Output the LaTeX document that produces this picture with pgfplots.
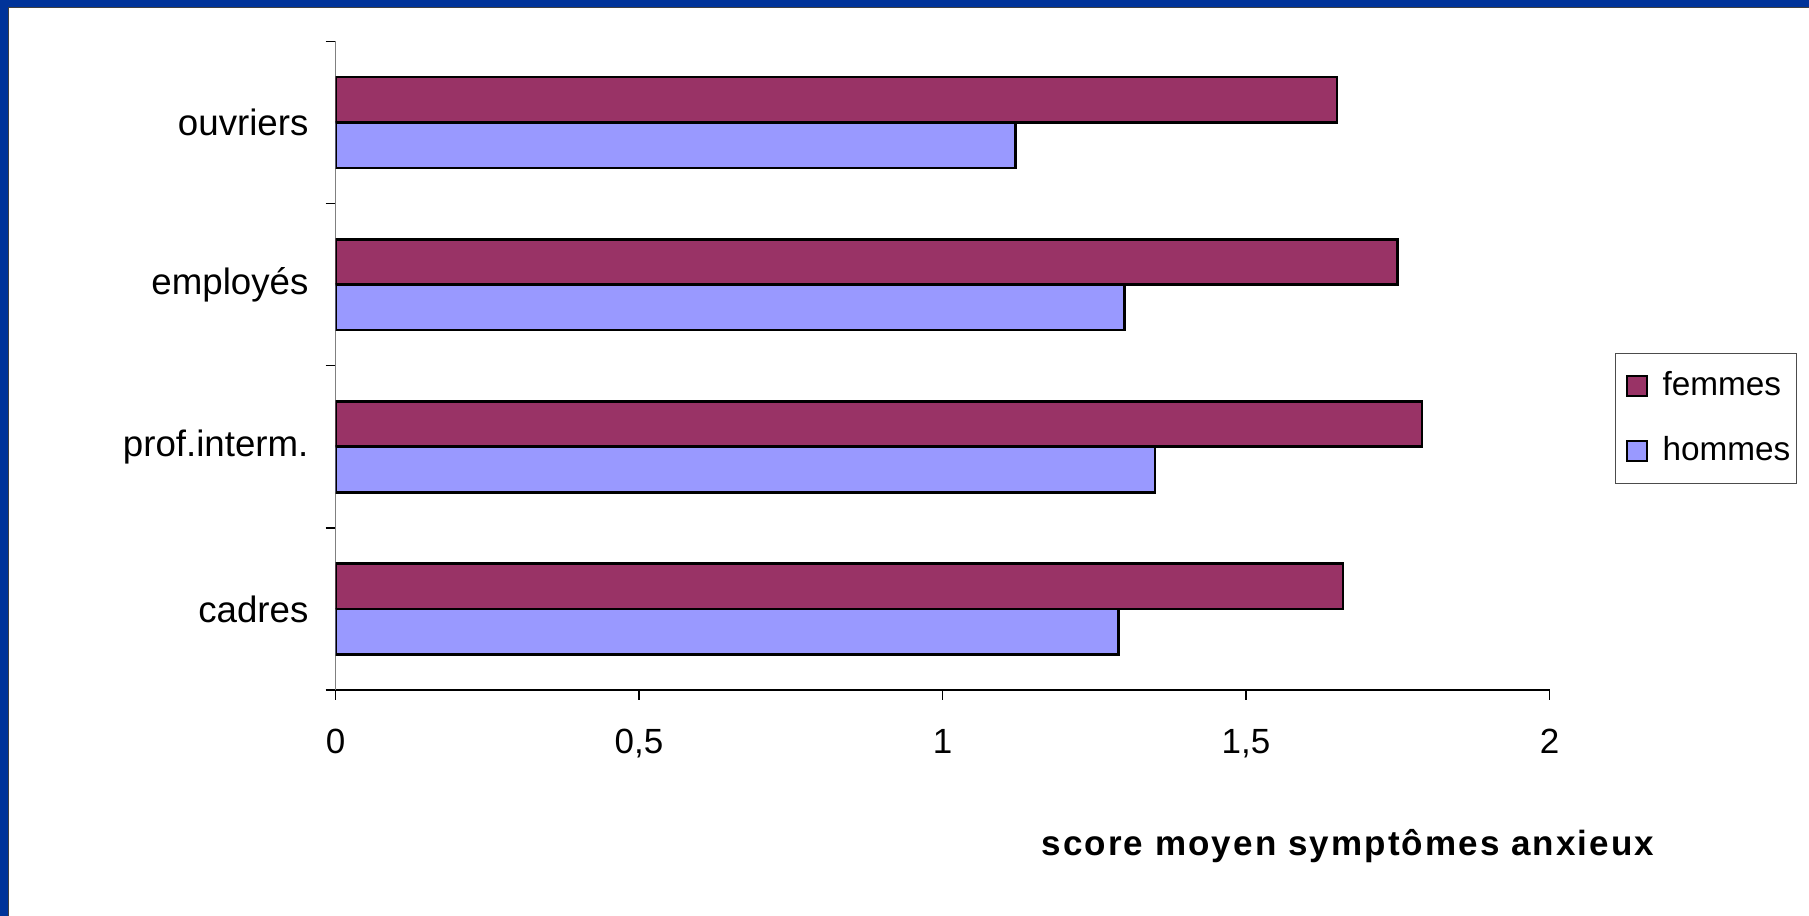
\documentclass[border=0pt]{standalone}
\usepackage{fontspec}
\setmainfont{Liberation Sans}
\usepackage{pgfplots}
\pgfplotsset{compat=1.18}
\definecolor{femmes}{HTML}{993366}
\definecolor{hommes}{HTML}{9999FF}
\definecolor{frameblue}{HTML}{003399}
\newcommand\lblfont{\fontsize{10.5}{12.6}\selectfont}
\newcommand\ylblfont{\fontsize{11}{13.2}\selectfont}
\newcommand\legfont{\fontsize{10}{12}\selectfont}
\begin{document}
\begin{tikzpicture}
\path[use as bounding box] (0,0) rectangle (542.7pt,274.8pt);
\fill[white] (0,0) rectangle (542.7pt,274.8pt);
\fill[frameblue] (0,0) rectangle (2.4pt,274.8pt);
\fill[frameblue] (0,272.7pt) rectangle (542.7pt,274.8pt);
\draw[black!75,line width=0.3pt] (2.55pt,0) -- (2.55pt,272.55pt) -- (542.7pt,272.55pt);
\begin{axis}[
  at={(100.65pt,67.8pt)}, anchor=south west,
  scale only axis, width=364.2pt, height=194.55pt,
  xbar, bar width=0.28,
  xmin=0, xmax=2, ymin=-0.5, ymax=3.5,
  axis lines*=left,
  x axis line style={black, line width=0.5pt},
  y axis line style={black!50, line width=0.5pt},
  tick align=outside, major tick length=3pt,
  tick style={black, line width=0.4pt},
  xtick={0,0.5,1,1.5,2}, xticklabels={0,{0,5},1,{1,5},2},
  ytick={-0.5,0.5,1.5,2.5,3.5}, yticklabels={},
  extra y ticks={0,1,2,3},
  extra y tick labels={cadres,prof.interm.,employés,ouvriers},
  extra y tick style={major tick length=0pt},
  /pgf/number format/assume math mode=true,
  xticklabel style={font=\lblfont, yshift=-5.2pt},
  yticklabel style={font=\ylblfont, xshift=-4.6pt},
  xlabel={\addfontfeature{LetterSpace=6}\bfseries score moyen symptômes anxieux},
  xlabel style={font=\lblfont, at={(axis description cs:0.834,-0.2413)}, anchor=center},
  legend style={at={(axis description cs:1.054,0.5197)}, anchor=north west,
    draw=black!70, line width=0.4pt, fill=white, font=\legfont,
    inner xsep=1.8pt, inner ysep=3.8pt, row sep=7.5pt,
    nodes={inner xsep=0pt, inner ysep=1.6pt}},
  legend cell align=left,
  legend image code/.code={\draw[#1,draw=black,line width=0.6pt] (0pt,-3pt) rectangle (6pt,3pt);
    \path (-1.3pt,0pt) (10.15pt,0pt);},
]
\addplot[fill=femmes, draw=black, line width=0.8pt, bar shift=0.14]
  coordinates {(1.66,0) (1.79,1) (1.75,2) (1.65,3)};
\addplot[fill=hommes, draw=black, line width=0.8pt, bar shift=-0.14]
  coordinates {(1.29,0) (1.35,1) (1.30,2) (1.12,3)};
\legend{femmes,hommes}
\end{axis}
\end{tikzpicture}
\end{document}
